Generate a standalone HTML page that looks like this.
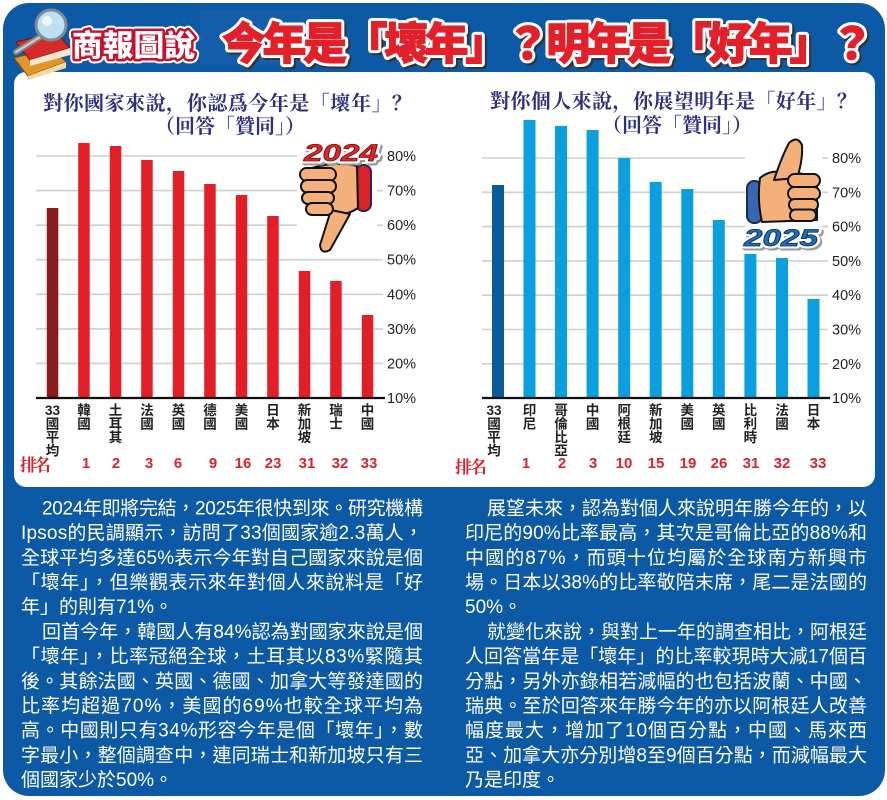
<!DOCTYPE html>
<html>
<head>
<meta charset="utf-8">
<style>
html,body{margin:0;padding:0;background:#ffffff;}
svg{display:block;}
.s{font-family:"Liberation Sans","Noto Sans CJK TC",sans-serif;}
.sr{font-family:"Liberation Serif","Noto Serif CJK SC","Noto Serif CJK TC",serif;}
.body{font-family:"Liberation Sans","Noto Sans CJK TC",sans-serif;font-size:19px;fill:#ffffff;}
.tick{font-family:"Liberation Sans",sans-serif;font-size:14.5px;fill:#222;}
.lab{font-family:"Liberation Sans","Noto Sans CJK TC",sans-serif;font-size:13.5px;font-weight:bold;fill:#222;text-anchor:middle;}
.rk{font-family:"Liberation Sans",sans-serif;font-size:15px;font-weight:bold;fill:#d9232b;text-anchor:middle;}
.ttl{font-family:"Liberation Serif","Noto Serif CJK SC","Noto Serif CJK TC",serif;font-size:20px;font-weight:bold;fill:#2e2f7f;}
</style>
</head>
<body>
<svg width="887" height="800" viewBox="0 0 887 800" xmlns="http://www.w3.org/2000/svg">
  <!-- outer blue frame -->
  <rect x="3" y="3" width="882" height="793" rx="26" fill="#0c5aa6"/>
  <!-- faint header texture -->
  <rect x="200" y="10" width="120" height="55" fill="#2a6db3" opacity="0.25"/>
  <!-- white panel -->
  <rect x="14" y="72" width="861" height="415" rx="12" fill="#ffffff"/>

  <!-- books icon -->
  <g>
    <polygon points="14,58 52,48 66,62 28,76" fill="#e0962a" stroke="#8a4a12" stroke-width="1"/>
    <polygon points="28,76 66,62 66,68 28,80" fill="#f3d9a0"/>
    <polygon points="16,42 56,32 70,48 30,60" fill="#d52a2a" stroke="#7a1010" stroke-width="1"/>
    <polygon points="30,60 70,48 70,55 30,66" fill="#f2e6d0"/>
    <line x1="40" y1="37" x2="16" y2="52" stroke="#888" stroke-width="6" stroke-linecap="round"/>
    <line x1="40" y1="37" x2="16" y2="52" stroke="#cfcfcf" stroke-width="2" stroke-linecap="round"/>
    <circle cx="51" cy="25" r="15" fill="#bfe0f3" stroke="#7d8b96" stroke-width="3"/>
    <circle cx="47" cy="21" r="5" fill="#ffffff" opacity="0.7"/>
  </g>

  <!-- logo text -->
  <text x="72" y="56" class="s" font-size="30" font-weight="900" textLength="123" lengthAdjust="spacingAndGlyphs" fill="#ffffff" stroke="#ffffff" stroke-width="9" stroke-linejoin="round">商報圖說</text>
  <text x="72" y="56" class="s" font-size="30" font-weight="900" textLength="123" lengthAdjust="spacingAndGlyphs" fill="#ffffff" stroke="#c8102e" stroke-width="5" stroke-linejoin="round">商報圖說</text>
  <text x="72" y="56" class="s" font-size="30" font-weight="900" textLength="123" lengthAdjust="spacingAndGlyphs" fill="#ffffff">商報圖說</text>

  <!-- main title -->
  <text x="224" y="61" class="s" font-size="44" font-weight="900" textLength="652" lengthAdjust="spacing" fill="#333" stroke="#333" stroke-width="7" stroke-linejoin="round">今年是「壞年」？明年是「好年」？</text>
  <text x="222" y="59" class="s" font-size="44" font-weight="900" textLength="652" lengthAdjust="spacing" fill="#ffffff" stroke="#ffffff" stroke-width="7" stroke-linejoin="round">今年是「壞年」？明年是「好年」？</text>
  <text x="222" y="59" class="s" font-size="44" font-weight="900" textLength="652" lengthAdjust="spacing" fill="#e3202a" stroke="#e3202a" stroke-width="1">今年是「壞年」？明年是「好年」？</text>

  <!-- ===== LEFT CHART ===== -->
  <text x="43" y="110" class="ttl" textLength="369" lengthAdjust="spacing">對你國家來說，你認爲今年是「壞年」？</text>
  <text x="155" y="133" class="ttl" textLength="150" lengthAdjust="spacing">（回答「贊同」）</text>

  <g stroke="#cfcfcf" stroke-width="1.6">
    <line x1="36" y1="156" x2="383" y2="156"/>
    <line x1="36" y1="190.6" x2="383" y2="190.6"/>
    <line x1="36" y1="225.2" x2="383" y2="225.2"/>
    <line x1="36" y1="259.7" x2="383" y2="259.7"/>
    <line x1="36" y1="294.3" x2="383" y2="294.3"/>
    <line x1="36" y1="328.9" x2="383" y2="328.9"/>
    <line x1="36" y1="363.4" x2="383" y2="363.4"/>
  </g>
  <g class="tick">
    <text x="387" y="161">80%</text>
    <text x="387" y="195.6">70%</text>
    <text x="387" y="230.2">60%</text>
    <text x="387" y="264.7">50%</text>
    <text x="387" y="299.3">40%</text>
    <text x="387" y="333.9">30%</text>
    <text x="387" y="368.4">20%</text>
    <text x="387" y="403">10%</text>
  </g>

  <!-- bars left -->
  <rect x="46.8" y="208" width="11.5" height="190" fill="#8b1a1f"/>
  <g fill="#e31e26">
    <rect x="78.2" y="143" width="11.5" height="255"/>
    <rect x="109.8" y="146" width="11.5" height="252"/>
    <rect x="141.2" y="160" width="11.5" height="238"/>
    <rect x="172.8" y="171" width="11.5" height="227"/>
    <rect x="204.2" y="184" width="11.5" height="214"/>
    <rect x="235.8" y="195" width="11.5" height="203"/>
    <rect x="267.2" y="216" width="11.5" height="182"/>
    <rect x="298.8" y="271" width="11.5" height="127"/>
    <rect x="330.2" y="281" width="11.5" height="117"/>
    <rect x="361.8" y="315" width="11.5" height="83"/>
  </g>
  <line x1="36" y1="398" x2="385" y2="398" stroke="#111" stroke-width="2.2"/>

  <!-- thumbs down -->
  <rect x="297" y="139" width="80" height="116" fill="#ffffff"/>
  <g stroke="#111" stroke-width="2" stroke-linejoin="round">
    <rect x="356" y="165" width="15" height="46" rx="7" fill="#d8232a" stroke="#2a2a55"/>
    <path d="M312,168 Q335,161 357,166 L358,208 Q348,215 338,214 L312,214 Z" fill="#f4b07a"/>
    <path d="M331,210 L320,245 Q321,255 330,250 L350,214 Z" fill="#f4b07a"/>
    <rect x="300" y="168" width="36" height="13" rx="6.5" fill="#f4b07a"/>
    <rect x="301" y="180" width="35" height="12.5" rx="6" fill="#f4b07a"/>
    <rect x="302" y="192" width="32" height="12" rx="6" fill="#f4b07a"/>
    <rect x="306" y="203" width="27" height="12" rx="6" fill="#f4b07a"/>
  </g>
  <text x="306" y="163" class="s" font-size="24" font-weight="bold" font-style="italic" textLength="74" lengthAdjust="spacingAndGlyphs" fill="#999" stroke="#999" stroke-width="5" stroke-linejoin="round">2024</text>
  <text x="304" y="161" class="s" font-size="24" font-weight="bold" font-style="italic" textLength="74" lengthAdjust="spacingAndGlyphs" fill="#fff" stroke="#fff" stroke-width="5" stroke-linejoin="round">2024</text>
  <text x="304" y="161" class="s" font-size="24" font-weight="bold" font-style="italic" textLength="74" lengthAdjust="spacingAndGlyphs" fill="#e0262b" stroke="#7a1010" stroke-width="0.8">2024</text>

  <!-- left labels -->
  <g class="lab">
    <text x="52.5" y="415">33</text><text x="52.5" y="428.5">國</text><text x="52.5" y="442">平</text><text x="52.5" y="455.5">均</text>
    <text x="84" y="415">韓</text><text x="84" y="428.5">國</text>
    <text x="115.5" y="415">土</text><text x="115.5" y="428.5">耳</text><text x="115.5" y="442">其</text>
    <text x="147" y="415">法</text><text x="147" y="428.5">國</text>
    <text x="178.5" y="415">英</text><text x="178.5" y="428.5">國</text>
    <text x="210" y="415">德</text><text x="210" y="428.5">國</text>
    <text x="241.5" y="415">美</text><text x="241.5" y="428.5">國</text>
    <text x="273" y="415">日</text><text x="273" y="428.5">本</text>
    <text x="304.5" y="415">新</text><text x="304.5" y="428.5">加</text><text x="304.5" y="442">坡</text>
    <text x="336" y="415">瑞</text><text x="336" y="428.5">士</text>
    <text x="367.5" y="415">中</text><text x="367.5" y="428.5">國</text>
  </g>
  <text x="20" y="471" class="sr" font-size="17" font-weight="bold" fill="#d9232b" textLength="31" lengthAdjust="spacing">排名</text>
  <g class="rk">
    <text x="86" y="468">1</text>
    <text x="116" y="468">2</text>
    <text x="149" y="468">3</text>
    <text x="178" y="468">6</text>
    <text x="213" y="468">9</text>
    <text x="243" y="468">16</text>
    <text x="273" y="468">23</text>
    <text x="307" y="468">31</text>
    <text x="340" y="468">32</text>
    <text x="369" y="468">33</text>
  </g>

  <!-- ===== RIGHT CHART ===== -->
  <text x="490" y="108" class="ttl" textLength="367" lengthAdjust="spacing">對你個人來說，你展望明年是「好年」？</text>
  <text x="602" y="132" class="ttl" textLength="150" lengthAdjust="spacing">（回答「贊同」）</text>

  <g stroke="#cfcfcf" stroke-width="1.6">
    <line x1="482" y1="158" x2="828" y2="158"/>
    <line x1="482" y1="192.3" x2="828" y2="192.3"/>
    <line x1="482" y1="226.6" x2="828" y2="226.6"/>
    <line x1="482" y1="260.9" x2="828" y2="260.9"/>
    <line x1="482" y1="295.2" x2="828" y2="295.2"/>
    <line x1="482" y1="329.5" x2="828" y2="329.5"/>
    <line x1="482" y1="363.8" x2="828" y2="363.8"/>
  </g>
  <g class="tick">
    <text x="832" y="163">80%</text>
    <text x="832" y="197.3">70%</text>
    <text x="832" y="231.6">60%</text>
    <text x="832" y="265.9">50%</text>
    <text x="832" y="300.2">40%</text>
    <text x="832" y="334.5">30%</text>
    <text x="832" y="368.8">20%</text>
    <text x="832" y="403">10%</text>
  </g>

  <!-- bars right -->
  <rect x="492" y="185" width="12" height="213" fill="#0a5a9e"/>
  <g fill="#0a9fdf">
    <rect x="523.5" y="120" width="12" height="278"/>
    <rect x="555" y="126" width="12" height="272"/>
    <rect x="586.6" y="130" width="12" height="268"/>
    <rect x="618.2" y="158" width="12" height="240"/>
    <rect x="649.7" y="182" width="12" height="216"/>
    <rect x="681.3" y="189" width="12" height="209"/>
    <rect x="712.8" y="220" width="12" height="178"/>
    <rect x="744.4" y="254" width="12" height="144"/>
    <rect x="776" y="258" width="12" height="140"/>
    <rect x="807.5" y="299" width="12" height="99"/>
  </g>
  <line x1="482" y1="398" x2="830" y2="398" stroke="#111" stroke-width="2.2"/>

  <!-- thumbs up -->
  <rect x="745" y="137" width="77" height="114" fill="#ffffff"/>
  <g stroke="#111" stroke-width="2" stroke-linejoin="round">
    <rect x="747" y="181" width="15" height="42" rx="7" fill="#3567b3" stroke="#1a2a50"/>
    <path d="M760,178 Q770,170 780,172 L795,172 L817,178 L817,220 L762,222 Q757,200 760,178 Z" fill="#f4b07a"/>
    <path d="M774,180 Q782,156 789,143 Q797,135 802,145 Q803,160 797,178 Z" fill="#f4b07a"/>
    <rect x="788" y="174" width="32" height="13" rx="6.5" fill="#f4b07a"/>
    <rect x="788" y="187" width="32" height="13" rx="6.5" fill="#f4b07a"/>
    <rect x="789" y="199" width="29" height="11.5" rx="5.5" fill="#f4b07a"/>
    <rect x="790" y="209.5" width="26" height="11.5" rx="5.5" fill="#f4b07a"/>
  </g>
  <text x="746" y="248" class="s" font-size="24" font-weight="bold" font-style="italic" textLength="74" lengthAdjust="spacingAndGlyphs" fill="#999" stroke="#999" stroke-width="5" stroke-linejoin="round">2025</text>
  <text x="744" y="246" class="s" font-size="24" font-weight="bold" font-style="italic" textLength="74" lengthAdjust="spacingAndGlyphs" fill="#fff" stroke="#fff" stroke-width="5" stroke-linejoin="round">2025</text>
  <text x="744" y="246" class="s" font-size="24" font-weight="bold" font-style="italic" textLength="74" lengthAdjust="spacingAndGlyphs" fill="#1f6db5" stroke="#0a2f60" stroke-width="0.8">2025</text>

  <!-- right labels -->
  <g class="lab">
    <text x="494" y="415">33</text><text x="494" y="428.5">國</text><text x="494" y="442">平</text><text x="494" y="455.5">均</text>
    <text x="529.5" y="415">印</text><text x="529.5" y="428.5">尼</text>
    <text x="561" y="415">哥</text><text x="561" y="428.5">倫</text><text x="561" y="442">比</text><text x="561" y="455.5">亞</text>
    <text x="592.6" y="415">中</text><text x="592.6" y="428.5">國</text>
    <text x="624.2" y="415">阿</text><text x="624.2" y="428.5">根</text><text x="624.2" y="442">廷</text>
    <text x="655.7" y="415">新</text><text x="655.7" y="428.5">加</text><text x="655.7" y="442">坡</text>
    <text x="687.3" y="415">美</text><text x="687.3" y="428.5">國</text>
    <text x="718.8" y="415">英</text><text x="718.8" y="428.5">國</text>
    <text x="750.4" y="415">比</text><text x="750.4" y="428.5">利</text><text x="750.4" y="442">時</text>
    <text x="782" y="415">法</text><text x="782" y="428.5">國</text>
    <text x="813.5" y="415">日</text><text x="813.5" y="428.5">本</text>
  </g>
  <text x="455" y="473" class="sr" font-size="17" font-weight="bold" fill="#d9232b" textLength="32" lengthAdjust="spacing">排名</text>
  <g class="rk">
    <text x="526" y="468">1</text>
    <text x="562" y="468">2</text>
    <text x="593" y="468">3</text>
    <text x="624" y="468">10</text>
    <text x="656" y="468">15</text>
    <text x="688" y="468">19</text>
    <text x="719" y="468">26</text>
    <text x="751" y="468">31</text>
    <text x="782" y="468">32</text>
    <text x="818" y="468">33</text>
  </g>

  <!-- ===== BODY TEXT LEFT ===== -->
  <g class="body">
    <text x="42" y="514.5" textLength="381" lengthAdjust="spacing">2024年即將完結，2025年很快到來。研究機構</text>
    <text x="21" y="539.2" textLength="402" lengthAdjust="spacing">Ipsos的民調顯示，訪問了33個國家逾2.3萬人，</text>
    <text x="21" y="563.9" textLength="402" lengthAdjust="spacing">全球平均多達65%表示今年對自己國家來說是個</text>
    <text x="21" y="588.5" textLength="402" lengthAdjust="spacing">「壞年」，但樂觀表示來年對個人來說料是「好</text>
    <text x="21" y="613.2">年」的則有71%。</text>
    <text x="42" y="637.9" textLength="381" lengthAdjust="spacing">回首今年，韓國人有84%認為對國家來說是個</text>
    <text x="21" y="662.6" textLength="402" lengthAdjust="spacing">「壞年」，比率冠絕全球，土耳其以83%緊隨其</text>
    <text x="21" y="687.3" textLength="402" lengthAdjust="spacing">後。其餘法國、英國、德國、加拿大等發達國的</text>
    <text x="21" y="711.9" textLength="402" lengthAdjust="spacing">比率均超過70%，美國的69%也較全球平均為</text>
    <text x="21" y="736.6" textLength="402" lengthAdjust="spacing">高。中國則只有34%形容今年是個「壞年」，數</text>
    <text x="21" y="761.3" textLength="402" lengthAdjust="spacing">字最小，整個調查中，連同瑞士和新加坡只有三</text>
    <text x="21" y="786">個國家少於50%。</text>
  </g>

  <!-- ===== BODY TEXT RIGHT ===== -->
  <g class="body">
    <text x="487" y="514.5" textLength="380" lengthAdjust="spacing">展望未來，認為對個人來說明年勝今年的，以</text>
    <text x="465" y="539.2" textLength="402" lengthAdjust="spacing">印尼的90%比率最高，其次是哥倫比亞的88%和</text>
    <text x="465" y="563.9" textLength="402" lengthAdjust="spacing">中國的87%，而頭十位均屬於全球南方新興市</text>
    <text x="465" y="588.5" textLength="402" lengthAdjust="spacing">場。日本以38%的比率敬陪末席，尾二是法國的</text>
    <text x="465" y="613.2">50%。</text>
    <text x="487" y="637.9" textLength="380" lengthAdjust="spacing">就變化來說，與對上一年的調查相比，阿根廷</text>
    <text x="465" y="662.6" textLength="402" lengthAdjust="spacing">人回答當年是「壞年」的比率較現時大減17個百</text>
    <text x="465" y="687.3" textLength="402" lengthAdjust="spacing">分點，另外亦錄相若減幅的也包括波蘭、中國、</text>
    <text x="465" y="711.9" textLength="402" lengthAdjust="spacing">瑞典。至於回答來年勝今年的亦以阿根廷人改善</text>
    <text x="465" y="736.6" textLength="402" lengthAdjust="spacing">幅度最大，增加了10個百分點，中國、馬來西</text>
    <text x="465" y="761.3" textLength="402" lengthAdjust="spacing">亞、加拿大亦分別增8至9個百分點，而減幅最大</text>
    <text x="465" y="786">乃是印度。</text>
  </g>
</svg>
</body>
</html>
